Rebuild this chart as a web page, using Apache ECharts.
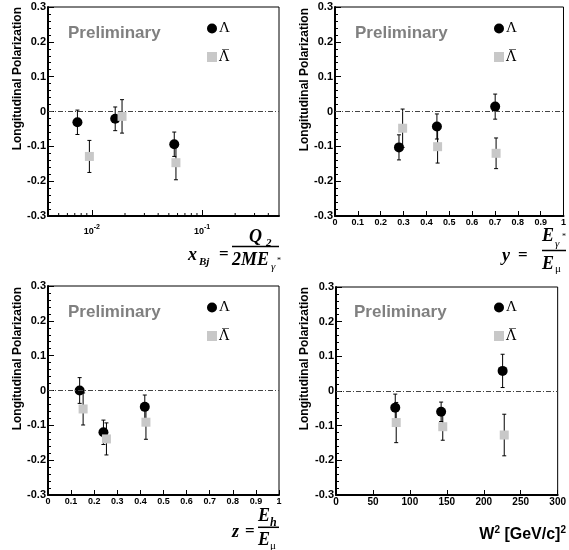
<!DOCTYPE html>
<html><head><meta charset="utf-8">
<script src="https://cdn.jsdelivr.net/npm/echarts@6/dist/echarts.min.js"></script>
<style>html,body{margin:0;padding:0;background:#fff}#c{width:569px;height:550px}</style>
</head><body><div id="c"></div>
<script>
// ---------------- data ----------------
const lamName = 'Λ';
const antiName = 'Λ\u0305';
const polRange = [-0.3, 0.3];
const polStep = 0.1;

// x_Bj panel (log axis)
const xbjRange = [0.004, 0.5];
const xbjMinorTicks = [0.005,0.006,0.007,0.008,0.009,0.02,0.03,0.04,0.05,0.06,0.07,0.08,0.09,0.2,0.3,0.4];
const xbjLamX = [0.0074, 0.0163, 0.056];
const xbjLamY = [-0.031, -0.021, -0.094];
const xbjLamE = [0.035, 0.034, 0.035];
const xbjAntiX = [0.0095, 0.0188, 0.058];
const xbjAntiY = [-0.129, -0.014, -0.147];
const xbjAntiE = [0.046, 0.048, 0.049];

// y panel
const yRange = [0, 1], yStep = 0.1;
const yLamX = [0.280, 0.446, 0.701];
const yLamY = [-0.103, -0.043, 0.014];
const yLamE = [0.036, 0.036, 0.036];
const yAntiX = [0.296, 0.449, 0.705];
const yAntiY = [-0.048, -0.101, -0.120];
const yAntiE = [0.055, 0.047, 0.044];

// z panel
const zRange = [0, 1], zStep = 0.1;
const zLamX = [0.137, 0.240, 0.419];
const zLamY = [0.000, -0.120, -0.047];
const zLamE = [0.037, 0.035, 0.034];
const zAntiX = [0.152, 0.253, 0.424];
const zAntiY = [-0.053, -0.139, -0.091];
const zAntiE = [0.046, 0.046, 0.049];

// W^2 panel
const wRange = [0, 300], wStep = 50;
const wLamX = [80.2, 142.3, 225.5];
const wLamY = [-0.048, -0.060, 0.058];
const wLamE = [0.039, 0.028, 0.048];
const wAntiX = [81.5, 144.5, 227.7];
const wAntiY = [-0.091, -0.103, -0.127];
const wAntiE = [0.058, 0.039, 0.060];

// ---------------- build ----------------
const SANS = '"Liberation Sans", Arial, sans-serif';
const SERIF = '"Liberation Serif", "Times New Roman", serif';

const grids = [
  {left: 48, top: 7, width: 231, height: 209},
  {left: 335, top: 7, width: 229, height: 209},
  {left: 48, top: 286, width: 231, height: 209},
  {left: 336, top: 287, width: 228, height: 208}
].map(g => Object.assign({show: true, borderColor: '#000', borderWidth: 1, backgroundColor: 'transparent'}, g));

function yAxisCfg(gi) {
  return {
    type: 'value', gridIndex: gi, min: polRange[0], max: polRange[1], interval: polStep,
    axisLine: {show: true, onZero: false, lineStyle: {color: '#000', width: 2}},
    axisTick: {show: true, inside: true, length: 6, lineStyle: {color: '#000', width: 1}},
    minorTick: {show: true, splitNumber: 5, length: 3, lineStyle: {color: '#000', width: 1}},
    splitLine: {show: false}, minorSplitLine: {show: false},
    axisLabel: {fontSize: 11, fontWeight: 'bold', fontFamily: SANS, color: '#000', margin: 2}
  };
}
function xLinCfg(gi, range, step, fs) {
  return {
    type: 'value', gridIndex: gi, min: range[0], max: range[1], interval: step,
    axisLine: {show: true, onZero: false, lineStyle: {color: '#000', width: 2}},
    axisTick: {show: true, inside: true, length: 5, lineStyle: {color: '#000', width: 1}},
    splitLine: {show: false},
    axisLabel: {fontSize: fs, fontWeight: 'bold', fontFamily: SANS, color: '#000', margin: 2}
  };
}
const xAxes = [
  {
    type: 'log', logBase: 10, gridIndex: 0, min: xbjRange[0], max: xbjRange[1],
    axisLine: {show: true, onZero: false, lineStyle: {color: '#000', width: 2}},
    axisTick: {show: true, inside: true, length: 6, lineStyle: {color: '#000', width: 1}},
    splitLine: {show: false},
    axisLabel: {
      showMinLabel: false, showMaxLabel: false, margin: 8, color: '#000',
      formatter: v => '{b|10}{s|' + Math.round(Math.log10(v)) + '}',
      rich: {
        b: {fontSize: 9, fontWeight: 'bold', fontFamily: SANS, color: '#000', lineHeight: 12, verticalAlign: 'bottom'},
        s: {fontSize: 7, fontWeight: 'bold', fontFamily: SANS, color: '#000', lineHeight: 12, verticalAlign: 'top'}
      }
    }
  },
  xLinCfg(1, yRange, yStep, 9),
  xLinCfg(2, zRange, zStep, 9),
  xLinCfg(3, wRange, wStep, 10)
];
const yAxes = [0, 1, 2, 3].map(yAxisCfg);

function errRender(params, api) {
  const x = api.value(0), y = api.value(1), e = api.value(2);
  const lo = api.coord([x, y - e]), hi = api.coord([x, y + e]);
  const c = 2;
  const st = {stroke: '#000', lineWidth: 1};
  return {type: 'group', children: [
    {type: 'line', shape: {x1: lo[0], y1: lo[1], x2: hi[0], y2: hi[1]}, style: st},
    {type: 'line', shape: {x1: lo[0] - c, y1: lo[1], x2: lo[0] + c, y2: lo[1]}, style: st},
    {type: 'line', shape: {x1: hi[0] - c, y1: hi[1], x2: hi[0] + c, y2: hi[1]}, style: st}
  ]};
}
function minorTickRender(params, api) {
  const p = api.coord([api.value(0), api.value(1)]);
  return {type: 'line', shape: {x1: p[0], y1: p[1], x2: p[0], y2: p[1] - 3}, style: {stroke: '#000', lineWidth: 1}};
}
const zip2 = (xs, ys) => xs.map((x, i) => [x, ys[i]]);
const zip3 = (xs, ys, es) => xs.map((x, i) => [x, ys[i], es[i]]);

const panelData = [
  [xbjLamX, xbjLamY, xbjLamE, xbjAntiX, xbjAntiY, xbjAntiE],
  [yLamX, yLamY, yLamE, yAntiX, yAntiY, yAntiE],
  [zLamX, zLamY, zLamE, zAntiX, zAntiY, zAntiE],
  [wLamX, wLamY, wLamE, wAntiX, wAntiY, wAntiE]
];

const series = [];
panelData.forEach((d, i) => {
  const ax = {xAxisIndex: i, yAxisIndex: i};
  series.push(Object.assign({type: 'custom', name: 'errL' + i, renderItem: errRender, data: zip3(d[0], d[1], d[2]), encode: {x: 0, y: 1}, z: 2, silent: true}, ax));
  series.push(Object.assign({
    type: 'scatter', name: lamName, data: zip2(d[0], d[1]), symbol: 'circle', symbolSize: 10,
    itemStyle: {color: '#000', opacity: 1}, z: 3,
    markLine: {silent: true, symbol: 'none', label: {show: false}, animation: false,
      lineStyle: {color: '#444', width: 1, type: [5, 2, 1, 2]}, emphasis: {disabled: true},
      data: [{yAxis: 0}]}
  }, ax));
  series.push(Object.assign({type: 'custom', name: 'errA' + i, renderItem: errRender, data: zip3(d[3], d[4], d[5]), encode: {x: 0, y: 1}, z: 4, silent: true}, ax));
  series.push(Object.assign({
    type: 'scatter', name: antiName, data: zip2(d[3], d[4]), symbol: 'rect', symbolSize: 9,
    itemStyle: {color: '#c8c8c8', opacity: 1}, z: 5
  }, ax));
});
series.push({type: 'custom', name: 'minorTicks', xAxisIndex: 0, yAxisIndex: 0, renderItem: minorTickRender,
  data: xbjMinorTicks.map(v => [v, polRange[0]]), encode: {x: 0, y: 1}, z: 6, silent: true});

const legendPos = [[207, 21], [494, 21], [207, 300], [494, 300]];
const legends = legendPos.map(p => ({
  left: p[0], top: p[1], orient: 'vertical', itemWidth: 10, itemHeight: 10, itemGap: 14, padding: 0,
  selectedMode: false,
  formatter: n => n === antiName ? '{o|' + n + '}' : '{n|' + n + '}',
  textStyle: {color: '#000', padding: [0, 0, 0, -3],
    rich: {
      n: {fontFamily: SERIF, fontSize: 15, color: '#000', lineHeight: 16},
      o: {fontFamily: '"DejaVu Serif", serif', fontSize: 14, color: '#000', lineHeight: 16}
    }},
  data: [{name: lamName, icon: 'circle'}, {name: antiName, icon: 'rect'}]
}));

const graphic = [];
function txt(t, x, y, opts) {
  graphic.push({type: 'text', x: x, y: y, silent: true, style: Object.assign({text: t, fill: '#000', verticalAlign: 'middle', align: 'left'}, opts)});
}
function hline(x1, x2, y, w) {
  graphic.push({type: 'line', silent: true, shape: {x1: x1, y1: y, x2: x2, y2: y}, style: {stroke: '#000', lineWidth: w}});
}
const BI = (s) => ({fontFamily: SERIF, fontWeight: 'bold', fontStyle: 'italic', fontSize: s});
// Preliminary + y titles
[[68, 33], [355, 33], [68, 312], [354, 312]].forEach(p => txt('Preliminary', p[0], p[1], {fontFamily: SANS, fontWeight: 'bold', fontSize: 17, fill: '#808080'}));
[[18, 7], [305, 8], [18, 287], [305, 287]].forEach(p => graphic.push({type: 'text', x: p[0], y: p[1], rotation: Math.PI / 2, silent: true,
  style: {text: 'Longitudinal Polarization', fill: '#000', fontFamily: SANS, fontWeight: 'bold', fontSize: 12, align: 'right', verticalAlign: 'middle'}}));
// panel 1 x title
txt('x', 188, 255, BI(18));
txt('Bj', 199, 262, BI(11));
txt('=', 219, 255, {fontFamily: SERIF, fontWeight: 'bold', fontSize: 17});
txt('Q', 249, 237, BI(18));
txt('2', 266, 243, BI(11));
hline(232, 279, 246.5, 1.5);
txt('2ME', 232, 260, BI(18));
txt('γ', 271, 267, {fontFamily: SERIF, fontStyle: 'italic', fontSize: 11});
txt('*', 277, 261, {fontFamily: SERIF, fontSize: 8});
// panel 2 x title
txt('y', 502, 256, BI(18));
txt('=', 518, 256, {fontFamily: SERIF, fontWeight: 'bold', fontSize: 17});
txt('E', 542, 236, BI(18));
txt('γ', 555, 244, {fontFamily: SERIF, fontStyle: 'italic', fontSize: 11});
txt('*', 562, 237, {fontFamily: SERIF, fontSize: 8});
hline(542, 566, 250.5, 1.5);
txt('E', 542, 264, BI(18));
txt('μ', 555, 269, {fontFamily: SERIF, fontSize: 11});
// panel 3 x title
txt('z', 232, 532, BI(18));
txt('=', 245, 532, {fontFamily: SERIF, fontWeight: 'bold', fontSize: 17});
txt('E', 258, 516, BI(18));
txt('h', 270, 523, BI(12));
hline(258, 279, 527.3, 1.5);
txt('E', 258, 540, BI(18));
txt('μ', 270, 546, {fontFamily: SERIF, fontSize: 11});
// panel 4 x title
graphic.push({type: 'text', x: 566, y: 534, silent: true, style: {
  text: '{a|W}{s|2}{a| [GeV/c]}{s|2}', align: 'right', verticalAlign: 'middle',
  rich: {
    a: {fontFamily: SANS, fontWeight: 'bold', fontSize: 16, fill: '#000', lineHeight: 18, verticalAlign: 'bottom'},
    s: {fontFamily: SANS, fontWeight: 'bold', fontSize: 10, fill: '#000', lineHeight: 18, verticalAlign: 'top'}
  }}});

const chart = echarts.init(document.getElementById('c'), null, {renderer: 'canvas'});
chart.setOption({
  animation: false,
  backgroundColor: '#fff',
  grid: grids,
  xAxis: xAxes,
  yAxis: yAxes,
  legend: legends,
  series: series,
  graphic: graphic
});
</script></body></html>
